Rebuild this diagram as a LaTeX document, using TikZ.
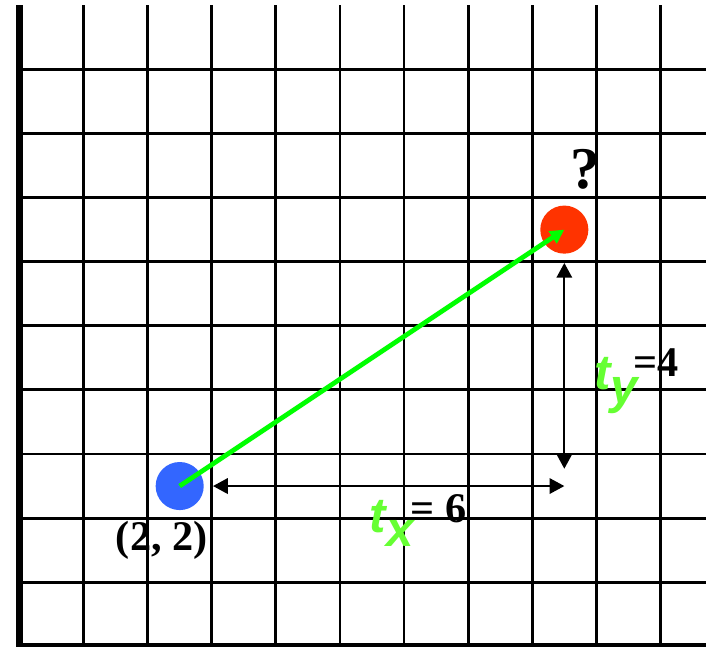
\documentclass[tikz,border=0pt]{standalone}
\usepackage{fontspec}
\setmainfont{Liberation Serif}
\newfontfamily\labsans{Liberation Sans}
\usetikzlibrary{arrows.meta,positioning}
\definecolor{dotblue}{HTML}{3366FF}
\definecolor{dotred}{HTML}{FF3300}
\definecolor{vecgreen}{HTML}{00FF00}
\definecolor{labgreen}{HTML}{66FF33}
\newcommand{\tvar}[1]{{\color{labgreen}\labsans\bfseries\itshape\fontsize{35}{35}\selectfont t\raisebox{-10pt}{#1}}}
\tikzset{>={Triangle[length=10.5pt,width=11pt]},
  gridline/.style={draw=black,line width=2pt},
  frame/.style={draw=black,line width=5.2pt,line join=miter},
  dot/.style={circle,inner sep=0pt,minimum size=1.2cm},
  vec/.style={-{Triangle[length=10pt,width=10pt]},draw=vecgreen,line width=3.4pt},
  dim/.style={<->,draw=black,line width=1.4pt},
  numlab/.style={inner sep=0pt,font=\fontsize{30}{30}\selectfont\bfseries}}

\begin{document}
\begin{tikzpicture}[x=1.6cm,y=1.6cm]
\clip (-0.803,-0.496) rectangle (10.21,9.582);
\foreach \x in {0.5,1.5,...,9.5}{\draw[gridline] (\x,-0.5)--(\x,9.5);}
\foreach \y in {0.5,1.5,...,8.5}{\draw[gridline] (-0.5,\y)--(10.4,\y);}
\draw[frame] (-0.5,9.5)--(-0.5,-0.5)--(10.4,-0.5);
% points and translation vector
\node[dot,fill=dotblue] (start) at (2,2) {};
\node[dot,fill=dotred] (goal) at (8,6) {};
\draw[vec] (start.center)--(goal.center);
\coordinate (hxleft) at (2.52,2);\coordinate (vybot) at (8,2.27);\coordinate (vytop) at (8,5.48);
\draw[dim] (hxleft)--(goal |- start);\draw[dim] (vybot)--(vytop);
% labels
\node[numlab,font=\fontsize{42}{42}\selectfont\bfseries] (qmark) at (8.32,6.94) {?};
\node[numlab] (startlab) at (1.72,1.16) {(2, 2)};
\node[numlab,anchor=base west] (txlab) at (4.96,1.27) {\tvar{x}\kern-2pt\raisebox{7.7pt}{= 6}};
\node[numlab,anchor=base west] (tylab) at (8.46,3.51) {\tvar{y}\kern-3pt\raisebox{9pt}{=4}};
\end{tikzpicture}
\end{document}
